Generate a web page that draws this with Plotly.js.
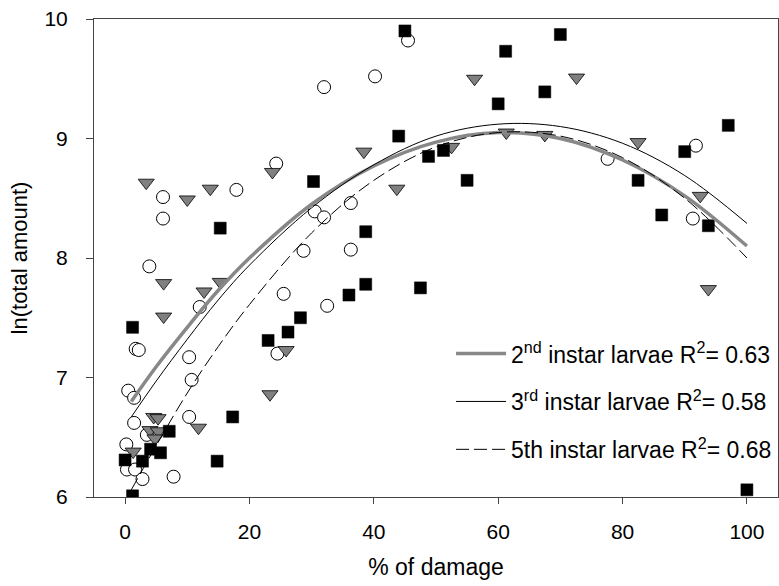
<!DOCTYPE html>
<html>
<head>
<meta charset="utf-8">
<script src="https://cdn.plot.ly/plotly-3.0.1.min.js"></script>
<style>html,body{margin:0;padding:0;background:#fff;}#chart{width:779px;height:586px;}</style>
</head>
<body>
<div id="chart"></div>
<script>
// Open circles
const circleX = [32.0, 40.2, 45.5, 24.3, 17.9, 6.1, 6.1, 3.9, 12.0, 30.5, 32.0, 36.3, 28.7, 36.3, 25.5, 32.5, 24.5, 1.7, 2.2, 10.3, 10.7, 0.5, 1.45, 1.45, 10.3, 0.2, 3.5, 0.3, 1.6, 2.8, 7.8, 77.6, 91.8, 91.3];
const circleY = [9.43, 9.52, 9.82, 8.79, 8.57, 8.51, 8.33, 7.93, 7.59, 8.39, 8.34, 8.46, 8.06, 8.07, 7.70, 7.60, 7.20, 7.24, 7.23, 7.17, 6.98, 6.89, 6.83, 6.62, 6.67, 6.44, 6.52, 6.23, 6.23, 6.15, 6.17, 8.83, 8.94, 8.33];
// Black squares
const squareX = [45.0, 61.2, 67.5, 60.0, 70.0, 97.0, 90.0, 82.5, 44.0, 51.2, 48.8, 30.3, 55.0, 86.3, 93.8, 15.3, 38.7, 38.7, 36.0, 47.5, 28.2, 26.2, 23.0, 1.2, 17.3, 14.8, 7.1, 5.7, 4.1, 2.8, 0.0, 1.2, 100.0];
const squareY = [9.90, 9.73, 9.39, 9.29, 9.87, 9.11, 8.89, 8.65, 9.02, 8.90, 8.85, 8.64, 8.65, 8.36, 8.27, 8.25, 8.22, 7.78, 7.69, 7.75, 7.50, 7.38, 7.31, 7.42, 6.67, 6.30, 6.55, 6.37, 6.40, 6.30, 6.31, 6.01, 6.06];
// Grey inverted triangles
const triX = [3.4, 10.0, 13.7, 23.7, 56.2, 38.4, 43.7, 52.5, 61.3, 67.5, 72.6, 82.5, 92.5, 93.8, 6.2, 12.7, 15.3, 6.2, 25.9, 23.3, 11.8, 4.6, 5.3, 4.0, 5.35, 4.8, 1.3];
const triY = [8.63, 8.49, 8.58, 8.72, 9.50, 8.89, 8.58, 8.93, 9.05, 9.03, 9.51, 8.97, 8.52, 7.74, 7.79, 7.72, 7.80, 7.51, 7.23, 6.86, 6.58, 6.67, 6.66, 6.56, 6.55, 6.49, 6.38];
// Fitted curves
const curveX = [1, 5, 10, 15, 20, 30, 40, 50, 60, 70, 80, 90, 100];
const fit2nd = [6.80, 7.09, 7.42, 7.73, 8.00, 8.45, 8.77, 8.97, 9.05, 9.00, 8.82, 8.52, 8.10];
const fit3rd = [6.67, 6.97, 7.32, 7.65, 7.94, 8.42, 8.78, 9.02, 9.12, 9.10, 8.96, 8.69, 8.29];
const fit5th = [6.06, 6.43, 6.87, 7.26, 7.61, 8.21, 8.65, 8.93, 9.05, 9.02, 8.84, 8.50, 8.00];
const legendNames = ['2<sup>nd</sup> instar larvae R<sup>2</sup>= 0.63', '3<sup>rd</sup> instar larvae R<sup>2</sup>= 0.58', '5th instar larvae R<sup>2</sup>= 0.68'];
const xTicks = [0, 20, 40, 60, 80, 100];
const yTicks = [6, 7, 8, 9, 10];

const font = 'Liberation Sans, Arial, sans-serif';
const traces = [
  {x: circleX, y: circleY, type: 'scatter', mode: 'markers', showlegend: false, hoverinfo: 'skip',
   marker: {symbol: 'circle', size: 13, color: '#ffffff', line: {color: '#000000', width: 1}}},
  {x: triX, y: triY, type: 'scatter', mode: 'markers', showlegend: false, hoverinfo: 'skip',
   marker: {symbol: 'triangle-down', size: 14, color: '#808080', line: {color: '#000000', width: 0.8}}},
  {x: squareX, y: squareY, type: 'scatter', mode: 'markers', showlegend: false, hoverinfo: 'skip',
   marker: {symbol: 'square', size: 12, color: '#000000', line: {color: '#000000', width: 0.5}}},
  {x: curveX, y: fit2nd, type: 'scatter', mode: 'lines', name: legendNames[0], legendgroup: 'a',
   line: {color: '#888888', width: 3.5, shape: 'spline'}},
  {x: curveX, y: fit3rd, type: 'scatter', mode: 'lines', name: legendNames[1], legendgroup: 'b',
   line: {color: '#000000', width: 1, shape: 'spline'}},
  {x: curveX, y: fit5th, type: 'scatter', mode: 'lines', name: legendNames[2], legendgroup: 'c',
   line: {color: '#000000', width: 1, shape: 'spline', dash: '13px,5px'}}
];
const layout = {
  width: 779, height: 586,
  margin: {l: 94, r: 1, t: 19, b: 89},
  paper_bgcolor: '#ffffff', plot_bgcolor: '#ffffff',
  font: {family: font, size: 21, color: '#000000'},
  showlegend: true,
  legend: {x: 0.522, xanchor: 'left', y: 0.345, yanchor: 'top', bgcolor: 'rgba(0,0,0,0)',
           borderwidth: 0, traceorder: 'grouped', tracegroupgap: 15, itemwidth: 50,
           font: {family: font, size: 23, color: '#000000'}},
  xaxis: {range: [-5, 105], tickvals: xTicks, ticks: 'outside', ticklen: 6, tickcolor: '#444',
          showline: true, linecolor: '#444', linewidth: 1, mirror: true, showgrid: false, zeroline: false,
          ticklabelstandoff: 10, automargin: false,
          tickfont: {family: font, size: 21},
          title: {text: '% of damage', font: {family: font, size: 23}, standoff: 16}},
  yaxis: {range: [6, 10], tickvals: yTicks, ticks: 'outside', ticklen: 7, tickcolor: '#444',
          showline: true, linecolor: '#444', linewidth: 1, mirror: true, showgrid: false, zeroline: false,
          ticklabelstandoff: 14, automargin: false,
          tickfont: {family: font, size: 21},
          title: {text: 'ln(total amount)', font: {family: font, size: 22}, standoff: 10}}
};
Plotly.newPlot('chart', traces, layout, {displayModeBar: false, staticPlot: true});
</script>
</body>
</html>
